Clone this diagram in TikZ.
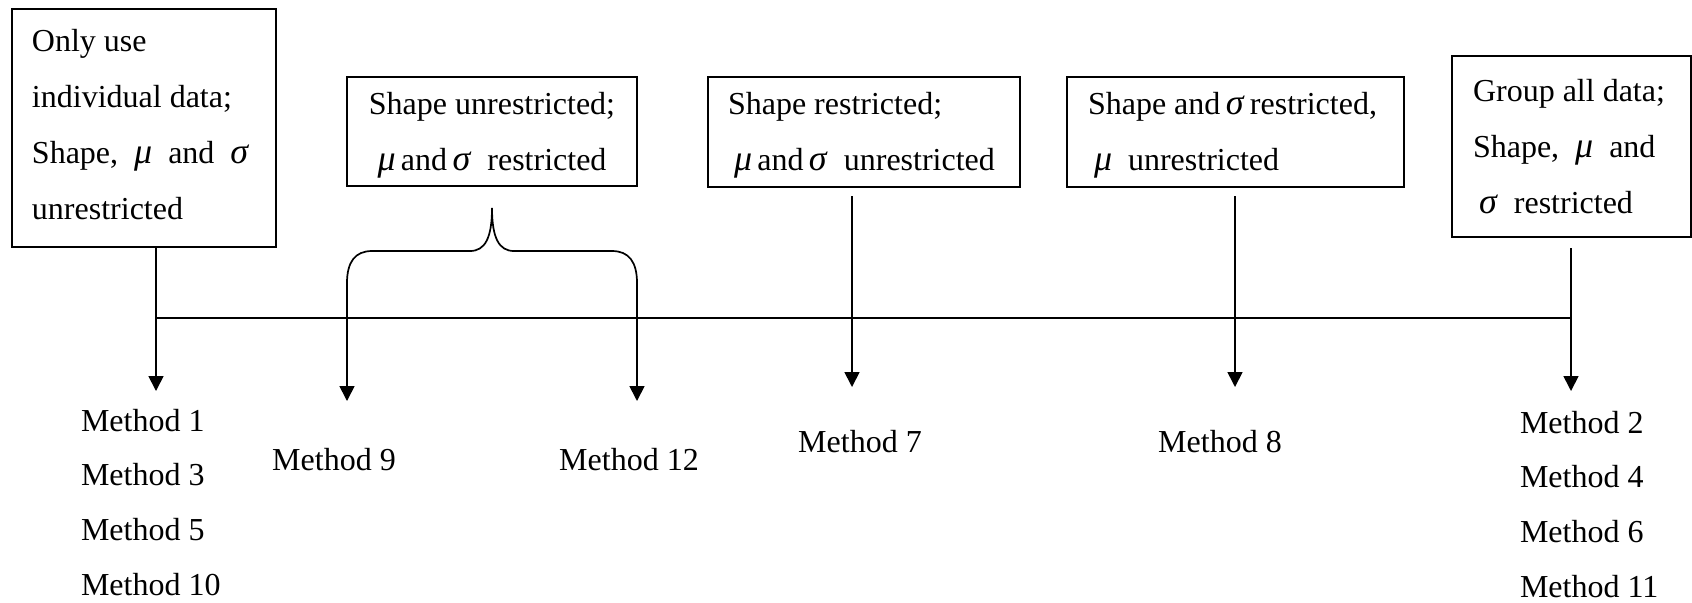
\documentclass[tikz,border=0pt]{standalone}
\usepackage{fontspec}
\setmainfont{Liberation Serif}
\usetikzlibrary{arrows.meta,calc}
\newcommand\mymu{\textit{\fontsize{18}{28}\selectfont μ}}
\newcommand\mysig{\textit{\fontsize{18}{28}\selectfont σ}}
\begin{document}
\begin{tikzpicture}[x=0.5pt,y=-0.5pt,
  box/.style={draw, line width=0.85pt, inner sep=0pt, outer sep=0pt},
  txt/.style={inner sep=0pt, outer sep=0pt, font=\fontsize{16}{28}\selectfont},
  conn/.style={line width=0.85pt},
  arr/.style={conn, -{Triangle[length=7.5pt,width=7.5pt]}}]
\useasboundingbox (0,0) rectangle (1692,602);
% boxes
\node[box, minimum width=132pt, minimum height=119pt] (b1) at (144,128) {};
\node[box, minimum width=145pt, minimum height=54.5pt] (b2) at (492,131.5) {};
\node[box, minimum width=156pt, minimum height=55pt] (b3) at (864,132) {};
\node[box, minimum width=168.5pt, minimum height=55pt] (b4) at (1235.5,132) {};
\node[box, minimum width=119.5pt, minimum height=90.5pt] (b5) at (1571.5,146.5) {};
% box texts
\node[txt, anchor=west, align=left] (x1) at (32,125) {Only use\\individual data;\\Shape,\ \ \mymu\ \ and\ \ \mysig\\unrestricted};
\node[txt, align=center] (x2) at (492,135.5) {Shape unrestricted;\\\mymu\,and\,\mysig\ \ restricted};
\node[txt, anchor=west, align=left] (x3) at (728,135.5) {Shape restricted;\\\hspace{3pt}\mymu\,and\,\mysig\ \ unrestricted};
\node[txt, anchor=west, align=left] (x4) at (1088,135.5) {Shape and\,\mysig\,restricted,\\\hspace{3pt}\mymu\ \ unrestricted};
\node[txt, anchor=west, align=left] (x5) at (1473,146.5) {Group all data;\\Shape,\ \ \mymu\ \ and\\\hspace{3pt}\mysig\ \ restricted};
% arrow tips
\coordinate (t1) at (156,391);
\coordinate (t9) at (347,401);
\coordinate (t12) at (637,401);
\coordinate (t7) at (852,387);
\coordinate (t8) at (1235,387);
\coordinate (t5) at (1571,391);
\coordinate (hl) at (156,318);
\coordinate (hr) at (1571,318);
\coordinate (s9) at (347,283);
\coordinate (s12) at (637,283);
\coordinate (s7) at ($(b3.south -| t7)+(0,9)$);
\coordinate (s8) at ($(b4.south -| t8)+(0,9)$);
\coordinate (s5) at ($(b5.south -| t5)+(0,11)$);
% connectors
\draw[arr] (b1.south -| t1) -- (t1);
\draw[conn] (hl) -- (hr);
\draw[arr] (s5) -- (t5);
\draw[arr] (s7) -- (t7);
\draw[arr] (s8) -- (t8);
\draw[arr] (s9) -- (t9);
\draw[arr] (s12) -- (t12);
% brace
\draw[conn] (s9) .. controls (347,262) and (355,251) .. (372,251) -- (470,251)
  .. controls (485,251) and (492,238) .. (492,208)
  .. controls (492,238) and (499,251) .. (514,251) -- (612,251)
  .. controls (629,251) and (637,262) .. (s12);
% method labels
\node[txt, anchor=west] (m1) at (81,421) {Method 1};
\node[txt, anchor=west] (m3) at (81,475) {Method 3};
\node[txt, anchor=west] (m5) at (81,530) {Method 5};
\node[txt, anchor=west] (m10) at (81,585) {Method 10};
\node[txt] (m9) at (334,460) {Method 9};
\node[txt] (m12) at (629,460) {Method 12};
\node[txt] (m7) at (860,442) {Method 7};
\node[txt] (m8) at (1220,442) {Method 8};
\node[txt, anchor=west] (m2) at (1520,423) {Method 2};
\node[txt, anchor=west] (m4) at (1520,477) {Method 4};
\node[txt, anchor=west] (m6) at (1520,532) {Method 6};
\node[txt, anchor=west] (m11) at (1520,587) {Method 11};
\end{tikzpicture}
\end{document}
